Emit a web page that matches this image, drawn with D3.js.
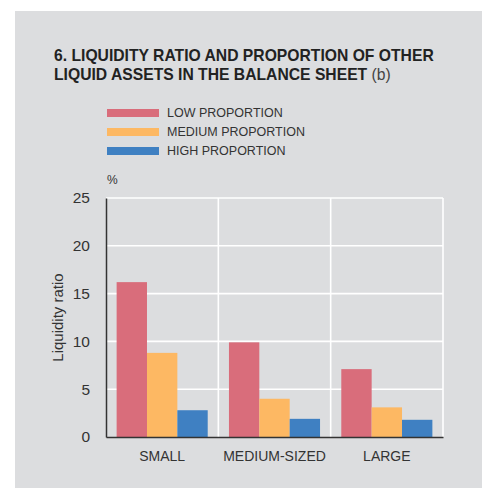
<!DOCTYPE html>
<html><head><meta charset="utf-8">
<script src="https://cdn.jsdelivr.net/npm/d3@7"></script>
<style>
html,body{margin:0;padding:0;background:#fff;}
svg text{font-family:"Liberation Sans",Arial,Helvetica,sans-serif;}
</style></head>
<body>
<svg id="chart" width="482" height="488"></svg>
<script>
const categories = ["SMALL", "MEDIUM-SIZED", "LARGE"];
const seriesNames = ["LOW PROPORTION", "MEDIUM PROPORTION", "HIGH PROPORTION"];
const lowValues = [16.2, 9.9, 7.1];
const mediumValues = [8.8, 4.0, 3.1];
const highValues = [2.8, 1.9, 1.8];
const yTicks = [0, 5, 10, 15, 20, 25];
const colors = ["#d96d7b", "#fdb863", "#3f80c2"];

const seriesValues = [lowValues, mediumValues, highValues];
const svg = d3.select("#chart");

svg.append("rect").attr("x", 15).attr("y", 11).attr("width", 467).attr("height", 477).attr("fill", "#dcdddf");

// Title
const title = svg.append("text").attr("x", 54).attr("y", 61).attr("fill", "#222")
  .style("font-size", "15.7px").style("font-weight", "bold");
title.text("6. LIQUIDITY RATIO AND PROPORTION OF OTHER");
const t2 = svg.append("text").attr("x", 54).attr("y", 80).attr("fill", "#222").style("font-size", "15.7px");
t2.append("tspan").style("font-weight", "bold").text("LIQUID ASSETS IN THE BALANCE SHEET");
t2.append("tspan").style("font-weight", "normal").attr("fill", "#444").text(" (b)");

// Legend
seriesNames.forEach((n, i) => {
  const yy = 113 + i * 19;
  svg.append("rect").attr("x", 107).attr("y", yy - 4).attr("width", 52).attr("height", 8).attr("fill", colors[i]);
  svg.append("text").attr("x", 167).attr("y", yy).attr("dy", "0.35em").attr("fill", "#333")
    .style("font-size", "12.5px").text(n);
});

const pLeft = 106, pRight = 443, pTop = 198, pBottom = 437;
const x = d3.scaleBand().domain(categories).range([pLeft, pRight]).paddingInner(0).paddingOuter(0);
const xi = d3.scaleBand().domain(d3.range(3)).range([0, x.bandwidth()]).paddingInner(0).paddingOuter(0.35);
const y = d3.scaleLinear().domain([0, 25]).range([pBottom, pTop]);

// grid
svg.append("g").selectAll("line").data(yTicks.filter(d => d > 0)).join("line")
  .attr("x1", pLeft).attr("x2", pRight).attr("y1", d => y(d)).attr("y2", d => y(d))
  .attr("stroke", "#fff").attr("stroke-width", 1.6);
svg.append("g").selectAll("line").data(categories).join("line")
  .attr("x1", d => x(d) + x.bandwidth()).attr("x2", d => x(d) + x.bandwidth())
  .attr("y1", pTop).attr("y2", pBottom).attr("stroke", "#fff").attr("stroke-width", 1.6);

// bars
categories.forEach((c, ci) => {
  seriesValues.forEach((vals, si) => {
    svg.append("rect").attr("x", x(c) + xi(si)).attr("width", xi.bandwidth())
      .attr("y", y(vals[ci])).attr("height", y(0) - y(vals[ci])).attr("fill", colors[si]);
  });
});

// y axis
const yAxis = svg.append("g").attr("transform", `translate(${pLeft},0)`)
  .call(d3.axisLeft(y).tickValues(yTicks).tickSize(0).tickPadding(16));
yAxis.select(".domain").attr("stroke", "#333").attr("stroke-width", 1.5);
yAxis.selectAll("text").style("font-size", "15.5px").attr("fill", "#333").style("font-family", "Liberation Sans, Arial, sans-serif");

// x axis
const xAxis = svg.append("g").attr("transform", `translate(0,${pBottom})`)
  .call(d3.axisBottom(x).tickSize(0).tickPadding(14));
xAxis.select(".domain").attr("stroke", "#333").attr("stroke-width", 1.5);
xAxis.selectAll("text").style("font-size", "14px").attr("fill", "#333").style("font-family", "Liberation Sans, Arial, sans-serif");

svg.append("text").attr("x", 107).attr("y", 184).attr("fill", "#333").style("font-size", "12px").text("%");
svg.append("text").attr("transform", `translate(63,${(pTop + pBottom) / 2}) rotate(-90)`)
  .attr("text-anchor", "middle").attr("fill", "#333").style("font-size", "15px").text("Liquidity ratio");
</script>
</body></html>
